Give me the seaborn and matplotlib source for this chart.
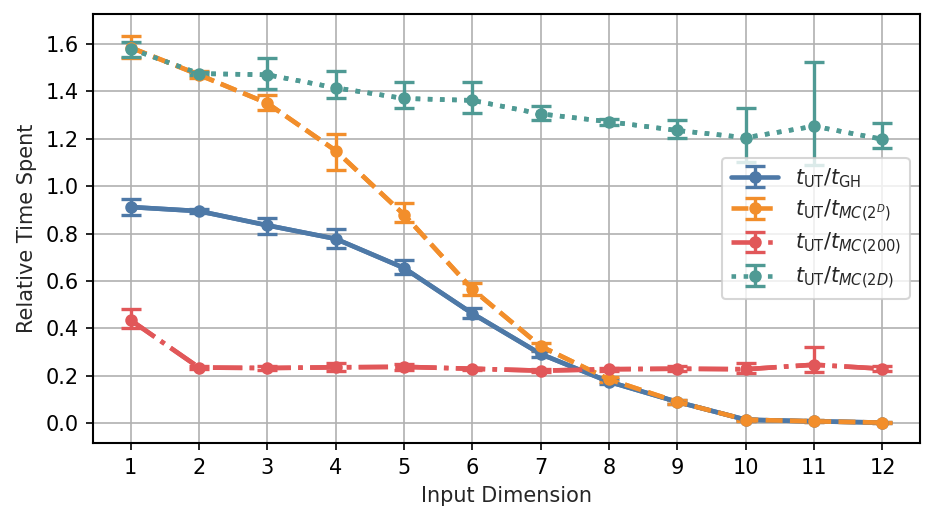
import numpy as np
import pandas as pd
import matplotlib
matplotlib.use("Agg")
import matplotlib.pyplot as plt
import seaborn as sns

dims = list(range(1, 13))

gh_mean = [0.912, 0.895, 0.835, 0.778, 0.655, 0.463, 0.292, 0.175, 0.090, 0.015, 0.008, 0.003]
gh_lo   = [0.880, 0.885, 0.800, 0.740, 0.630, 0.445, 0.280, 0.165, 0.082, 0.010, 0.004, 0.001]
gh_hi   = [0.945, 0.905, 0.865, 0.820, 0.690, 0.485, 0.305, 0.185, 0.098, 0.020, 0.012, 0.005]

mc2d_mean = [1.585, 1.470, 1.350, 1.150, 0.880, 0.565, 0.325, 0.185, 0.090, 0.015, 0.008, 0.003]
mc2d_lo   = [1.540, 1.455, 1.320, 1.070, 0.850, 0.540, 0.310, 0.175, 0.082, 0.010, 0.004, 0.001]
mc2d_hi   = [1.635, 1.485, 1.385, 1.220, 0.930, 0.590, 0.340, 0.195, 0.098, 0.020, 0.012, 0.005]

mc200_mean = [0.435, 0.235, 0.233, 0.236, 0.238, 0.230, 0.222, 0.228, 0.230, 0.228, 0.247, 0.230]
mc200_lo   = [0.400, 0.230, 0.225, 0.220, 0.225, 0.225, 0.215, 0.222, 0.220, 0.210, 0.215, 0.220]
mc200_hi   = [0.480, 0.240, 0.240, 0.255, 0.252, 0.235, 0.228, 0.234, 0.240, 0.255, 0.320, 0.240]

mc2D_mean = [1.580, 1.475, 1.470, 1.415, 1.370, 1.362, 1.305, 1.272, 1.235, 1.205, 1.253, 1.198]
mc2D_lo   = [1.545, 1.468, 1.410, 1.370, 1.330, 1.310, 1.280, 1.260, 1.205, 1.100, 1.089, 1.160]
mc2D_hi   = [1.610, 1.482, 1.540, 1.485, 1.440, 1.440, 1.340, 1.285, 1.280, 1.330, 1.522, 1.265]

labels = [r"$t_{\mathrm{UT}}/t_{\mathrm{GH}}$",
          r"$t_{\mathrm{UT}}/t_{MC(2^D)}$",
          r"$t_{\mathrm{UT}}/t_{MC(200)}$",
          r"$t_{\mathrm{UT}}/t_{MC(2D)}$"]
colors = ["#4e79a7", "#f28e2b", "#e15759", "#4f9a94"]
styles = ["-", "--", "-.", ":"]

sns.set_style("ticks")
plt.rcParams["font.family"] = ["DejaVu Sans"]

fig, ax = plt.subplots(figsize=(9.35 / 1.5, 5.22 / 1.5), dpi=150)
fig.subplots_adjust(left=0.0995, right=0.984, top=0.973, bottom=0.151)

series = [(gh_mean, gh_lo, gh_hi), (mc2d_mean, mc2d_lo, mc2d_hi),
          (mc200_mean, mc200_lo, mc200_hi), (mc2D_mean, mc2D_lo, mc2D_hi)]

for (m, lo, hi), lab, c, ls in zip(series, labels, colors, styles):
    m = np.array(m); lo = np.array(lo); hi = np.array(hi)
    df = pd.DataFrame({"dim": dims, "val": m})
    sns.lineplot(data=df, x="dim", y="val", ax=ax, color=c, linestyle=ls,
                 linewidth=2.2, marker="o", markersize=5, markeredgewidth=0,
                 legend=False)
    ax.errorbar(dims, m, yerr=[m - lo, hi - m], color=c, linestyle=ls,
                linewidth=2.2, marker="o", markersize=5, capsize=5,
                capthick=1.6, elinewidth=1.6, label=lab)

ax.grid(True, color="#b0b0b0", linewidth=0.8)
ax.set_axisbelow(True)
ax.set_xticks(dims)
ax.set_xlim(0.45, 12.55)
ax.set_ylim(-0.084, 1.726)
ax.set_yticks(np.arange(0, 1.61, 0.2))
ax.set_xlabel("Input Dimension", fontsize=10)
ax.set_ylabel("Relative Time Spent", fontsize=10)
for s in ax.spines.values():
    s.set_color("black")
    s.set_linewidth(1)
ax.tick_params(colors="black", labelsize=10, length=3.5, width=0.8)
ax.legend(loc="center right", fontsize=10, framealpha=0.8, handlelength=2.3,
          labelspacing=0.35)

fig.savefig("out.png", dpi=150)
